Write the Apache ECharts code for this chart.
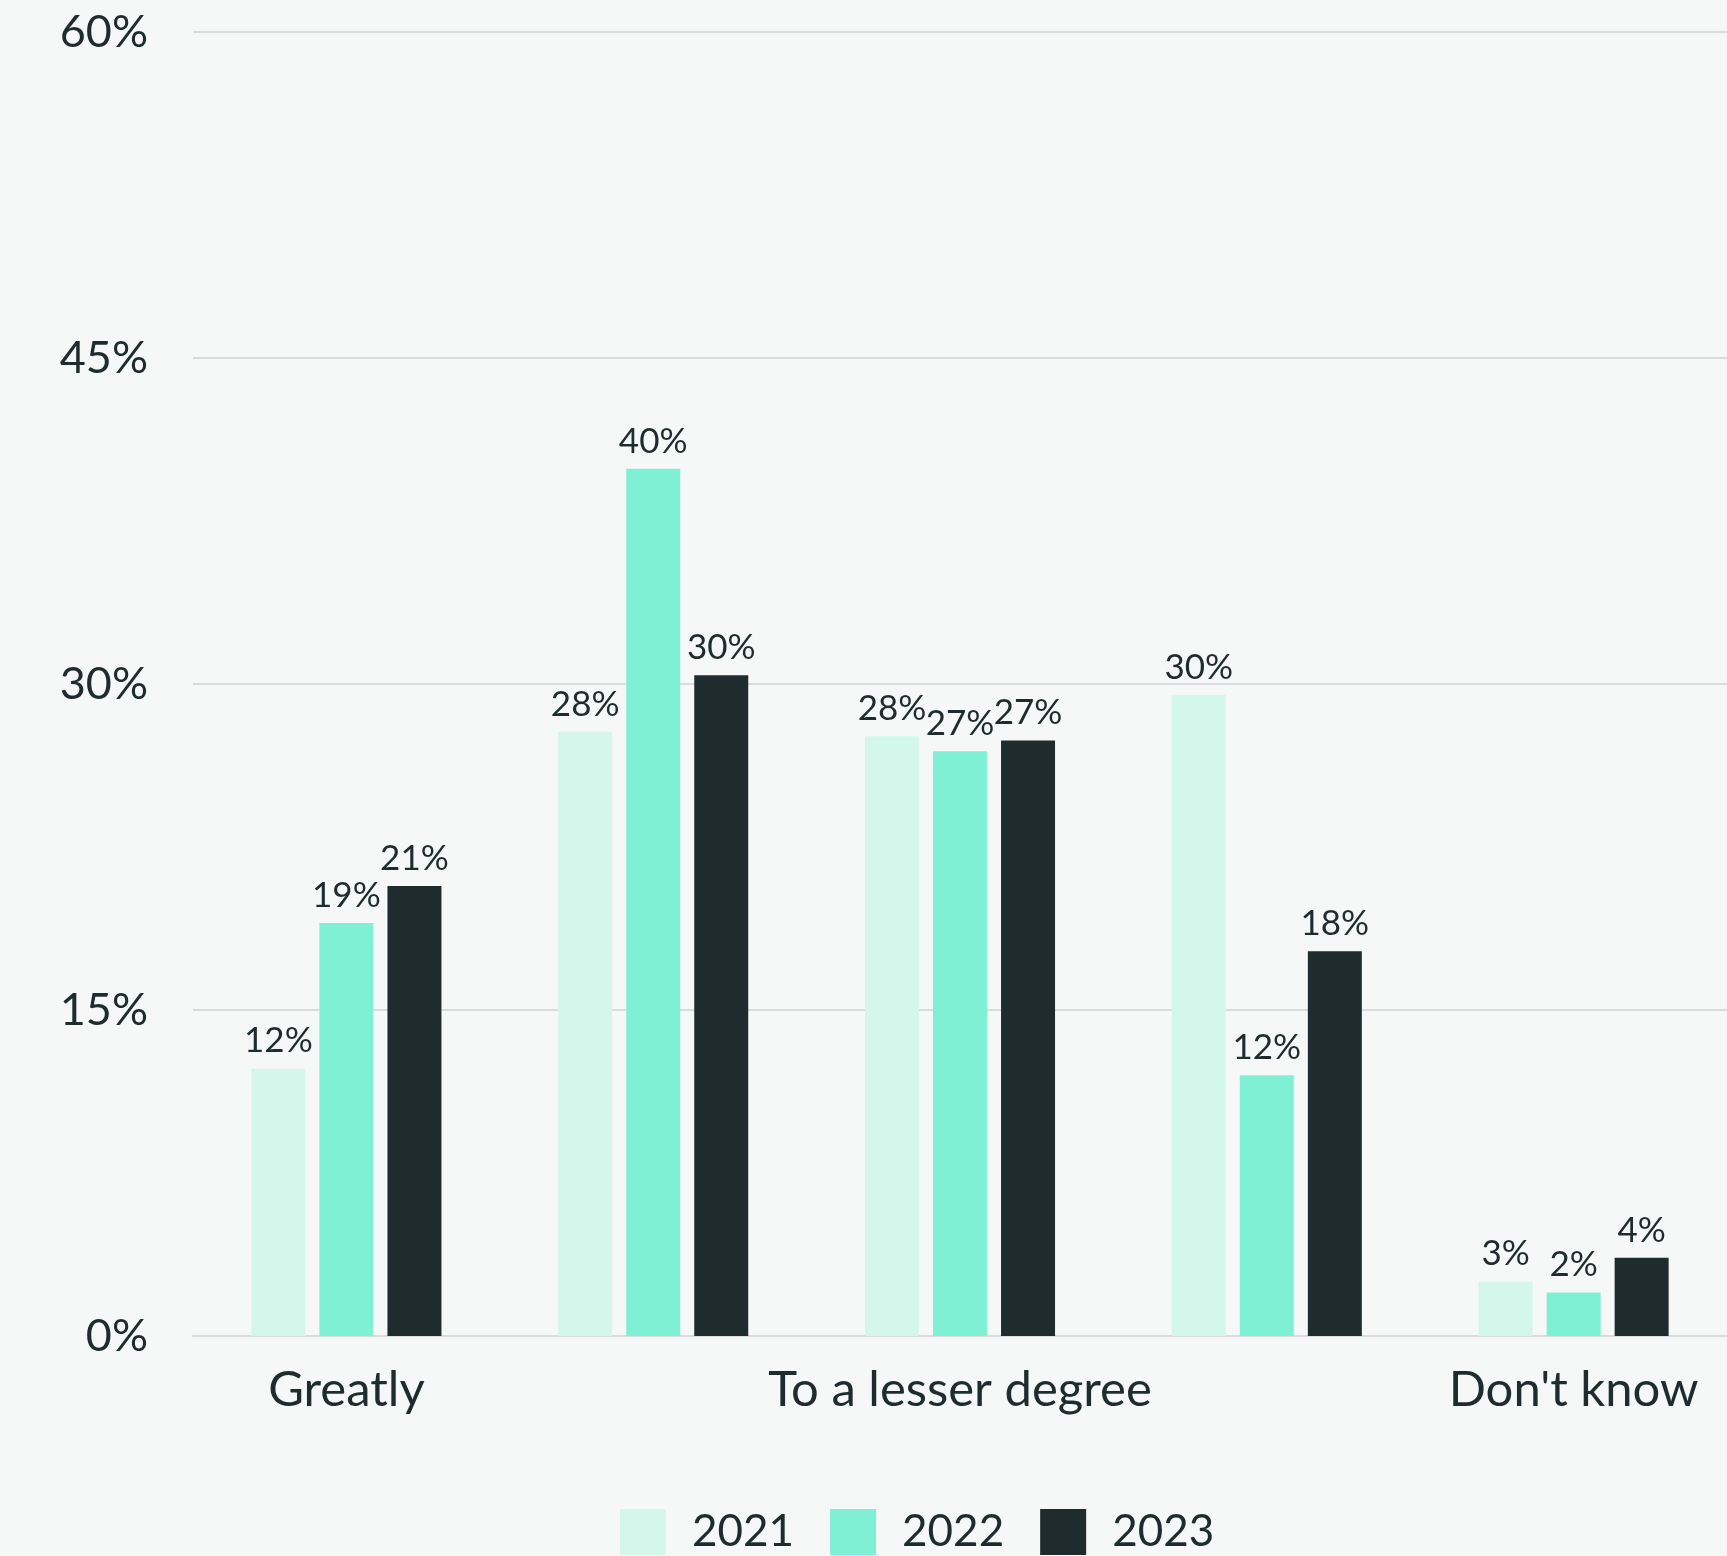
<!DOCTYPE html>
<html>
<head>
<meta charset="utf-8">
<script src="https://cdn.jsdelivr.net/npm/echarts@6/dist/echarts.min.js"></script>
<style>
html,body{margin:0;padding:0;background:#f6f8f7;}
#c{width:1727px;height:1556px;}
</style>
</head>
<body>
<div id="c"></div>
<script>
const categories = ["Greatly", "To some degree", "To a lesser degree", "Not at all", "Don't know"];
const seriesNames = ["2021", "2022", "2023"];
const values2021 = [12.3, 27.8, 27.6, 29.5, 2.5];
const values2022 = [19.0, 39.9, 26.9, 12.0, 2.0];
const values2023 = [20.7, 30.4, 27.4, 17.7, 3.6];
const yTicks = [0, 15, 30, 45, 60];
const colors = ["#d4f7ec", "#7ff0d4", "#1f2c2d"];

const font = "Lato";
const textColor = "#1f2c2d";
const allValues = [values2021, values2022, values2023];

const chart = echarts.init(document.getElementById('c'));
chart.setOption({
  backgroundColor: "#f6f8f7",
  animation: false,
  textStyle: { fontFamily: font, color: textColor },
  grid: { left: 193, right: 0, top: 32, bottom: 220, containLabel: false },
  legend: {
    data: seriesNames,
    left: 615,
    top: 1504,
    itemWidth: 46,
    itemHeight: 46,
    itemGap: 36,
    textStyle: { fontFamily: font, fontSize: 44, color: textColor, padding: [0, 0, 0, 21] },
    icon: 'rect'
  },
  xAxis: {
    type: 'category',
    data: categories,
    axisLine: { show: true, lineStyle: { color: '#d9dcdc', width: 2 } },
    axisTick: { show: false },
    axisLabel: { interval: 1, fontFamily: font, fontSize: 49, color: textColor, margin: 30 }
  },
  yAxis: {
    type: 'value',
    min: yTicks[0],
    max: yTicks[yTicks.length - 1],
    interval: 15,
    axisLine: { show: false },
    axisTick: { show: false },
    splitLine: { lineStyle: { color: '#d9dcdc', width: 2 } },
    axisLabel: { formatter: v => v + '%', fontFamily: font, fontSize: 45, color: textColor, margin: 45 }
  },
  series: seriesNames.map((name, i) => ({
    name: name,
    type: 'bar',
    data: allValues[i],
    barWidth: 54,
    barGap: '26%',
    itemStyle: { color: colors[i] },
    label: {
      show: true,
      position: 'top',
      distance: 10,
      formatter: p => Math.round(p.value) + '%',
      fontFamily: font,
      fontSize: 35,
      color: textColor
    }
  }))
});
</script>
</body>
</html>
